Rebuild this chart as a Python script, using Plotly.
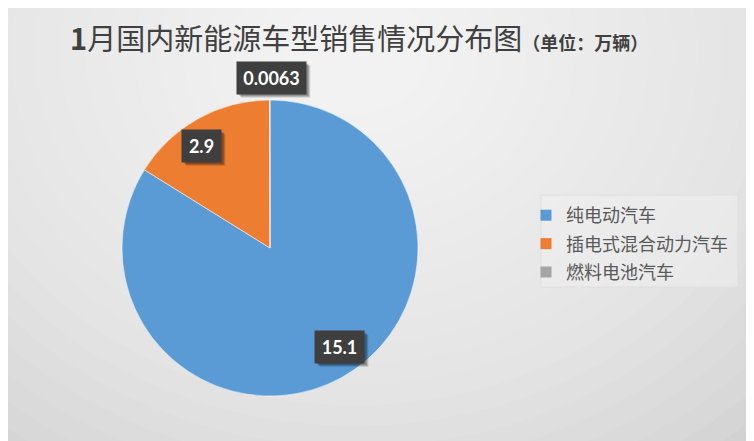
import numpy as np
import plotly.graph_objects as go

# data (单位：万辆)
labels = ['纯电动汽车', '插电式混合动力汽车', '燃料电池汽车']
values = [15.1, 2.9, 0.0063]
value_text = ['15.1', '2.9', '0.0063']
colors = ['#5B9BD5', '#ED7D31', '#A5A5A5']

W, H = 754, 441
OFF = 8  # page body margin, positions below are given in page px


def px(x):
    return (x - OFF) / W


def py(y):
    return 1 - (y - OFF) / H


cx, cy, r = 270, 248, 148   # pie centre / radius

fig = go.Figure()
fig.add_trace(go.Pie(
    labels=labels, values=values, sort=False,
    direction='clockwise', rotation=0,
    marker=dict(colors=colors, line=dict(color='white', width=0.5)),
    textinfo='none', hoverinfo='label+value', showlegend=False,
    domain=dict(x=[px(cx - r), px(cx + r)], y=[py(cy + r), py(cy - r)]),
))

# legend entries (one group each so the row gap can be set)
for lab, col in zip(labels, colors):
    fig.add_trace(go.Scatter(x=[None], y=[None], mode='markers', name=lab,
                             legendgroup=lab,
                             marker=dict(symbol='square', size=11, color=col)))

# background: soft radial highlight near the top
shapes = []
n = 24
for k in range(n, 0, -1):
    rx = 0.78 * k / n
    ry = rx * 1.45
    shapes.append(dict(type='circle', xref='paper', yref='paper',
                       x0=0.46 - rx, x1=0.46 + rx, y0=0.9 - ry, y1=0.9 + ry,
                       fillcolor='rgba(255,255,255,0.07)', line_width=0, layer='below'))
# legend box
shapes.append(dict(type='rect', xref='paper', yref='paper',
                   x0=px(541), x1=px(738), y0=py(287), y1=py(195),
                   fillcolor='rgba(240,240,240,0.5)', line=dict(color='#dedede', width=1),
                   layer='below'))

# data labels placed from slice mid angles, nudged like the original's best-fit
vals = np.array(values)
ang = np.cumsum(vals) / vals.sum() * 360
mid = np.radians(ang - vals / vals.sum() * 180)
rad_f = [0.82, 0.82, 1.15]
nudge = [(11, -7), (-9, 4), (2, 0)]
box_w = [49, 39, 69]
box_h = 32
pad = 4
annotations = []
for i, t in enumerate(value_text):
    lx = cx + r * rad_f[i] * np.sin(mid[i]) + nudge[i][0]
    ly = cy - r * rad_f[i] * np.cos(mid[i]) + nudge[i][1]
    for s, a in [(4, 0.12), (3, 0.18), (2, 0.2)]:
        shapes.append(dict(type='rect', xref='paper', yref='paper', layer='above',
                           x0=px(lx - box_w[i] / 2 + s), x1=px(lx + box_w[i] / 2 + s),
                           y0=py(ly + box_h / 2 + s), y1=py(ly - box_h / 2 + s),
                           fillcolor='rgba(0,0,0,%s)' % a, line_width=0))
    annotations.append(dict(x=px(lx), y=py(ly), xref='paper', yref='paper',
                            xanchor='center', yanchor='middle',
                            text='<b>%s</b>' % t, showarrow=False, borderpad=pad,
                            width=box_w[i] - 2 * pad, height=box_h - 2 * pad,
                            bgcolor='#3f3f3f',
                            font=dict(family='Lato', size=18, color='white')))

annotations.append(dict(
    x=px(68), y=py(37), xref='paper', yref='paper', xanchor='left', yanchor='middle',
    showarrow=False,
    text='<b>1</b>月国内新能源车型销售情况分布图<span style="font-size:18px"><b>（单位：万辆）</b></span>',
    font=dict(family='Noto Sans CJK SC', size=29, color='#404040')))

fig.update_layout(
    width=W, height=H, margin=dict(l=0, r=0, t=0, b=0),
    paper_bgcolor='#d2d2d2', plot_bgcolor='rgba(0,0,0,0)',
    xaxis=dict(visible=False), yaxis=dict(visible=False),
    shapes=shapes, annotations=annotations,
    legend=dict(x=px(526), y=py(197), xanchor='left', yanchor='top',
                bgcolor='rgba(0,0,0,0)', borderwidth=0,
                font=dict(family='Noto Sans CJK SC', size=18, color='#595959'),
                tracegroupgap=2),
    showlegend=True,
)

fig.write_html('out.html')
